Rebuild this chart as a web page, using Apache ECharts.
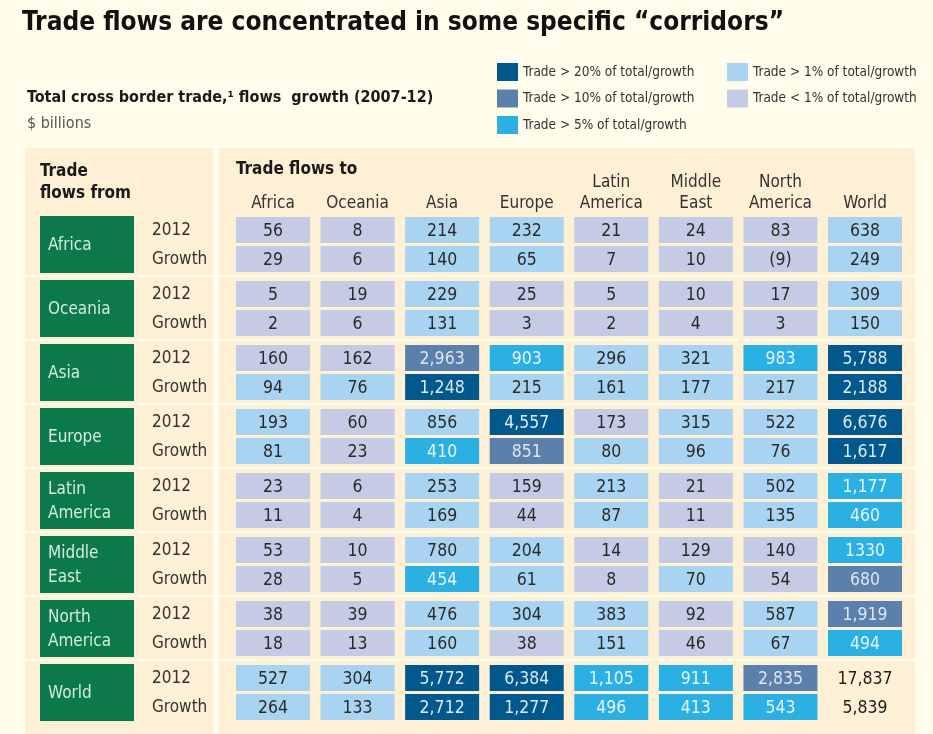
<!DOCTYPE html>
<html lang="en">
<head>
<meta charset="UTF-8">
<title>Trade corridors</title>
<script src="https://cdn.jsdelivr.net/npm/echarts@6/dist/echarts.min.js"></script>
<style>
  html, body { margin: 0; padding: 0; background: #fffcec; }
  #main { width: 933px; height: 734px; }
</style>
</head>
<body>
<div id="main"></div>
<script>
// destinations (columns) and origins (row groups)
var destinations = ['Africa', 'Oceania', 'Asia', 'Europe', 'Latin\nAmerica', 'Middle\nEast', 'North\nAmerica', 'World'];
var origins = ['Africa', 'Oceania', 'Asia', 'Europe', 'Latin\nAmerica', 'Middle\nEast', 'North\nAmerica', 'World'];
var rowKinds = ['2012', 'Growth'];

// $ billions, as printed
var trade2012 = [
    ['56', '8', '214', '232', '21', '24', '83', '638'],
    ['5', '19', '229', '25', '5', '10', '17', '309'],
    ['160', '162', '2,963', '903', '296', '321', '983', '5,788'],
    ['193', '60', '856', '4,557', '173', '315', '522', '6,676'],
    ['23', '6', '253', '159', '213', '21', '502', '1,177'],
    ['53', '10', '780', '204', '14', '129', '140', '1330'],
    ['38', '39', '476', '304', '383', '92', '587', '1,919'],
    ['527', '304', '5,772', '6,384', '1,105', '911', '2,835', '17,837']
];
var tradeGrowth = [
    ['29', '6', '140', '65', '7', '10', '(9)', '249'],
    ['2', '6', '131', '3', '2', '4', '3', '150'],
    ['94', '76', '1,248', '215', '161', '177', '217', '2,188'],
    ['81', '23', '410', '851', '80', '96', '76', '1,617'],
    ['11', '4', '169', '44', '87', '11', '135', '460'],
    ['28', '5', '454', '61', '8', '70', '54', '680'],
    ['18', '13', '160', '38', '151', '46', '67', '494'],
    ['264', '133', '2,712', '1,277', '496', '413', '543', '5,839']
];

// share class: 0 <1%, 1 >1%, 2 >5%, 3 >10%, 4 >20%, -1 not shaded
var class2012 = [
    [0, 0, 1, 1, 0, 0, 0, 1],
    [0, 0, 1, 0, 0, 0, 0, 1],
    [0, 0, 3, 2, 1, 1, 2, 4],
    [1, 0, 1, 4, 0, 1, 1, 4],
    [0, 0, 1, 0, 1, 0, 1, 2],
    [0, 0, 1, 1, 0, 0, 0, 2],
    [0, 0, 1, 1, 1, 0, 1, 3],
    [1, 1, 4, 4, 2, 2, 3, -1]
];
var classGrowth = [
    [0, 0, 1, 1, 0, 0, 0, 1],
    [0, 0, 1, 0, 0, 0, 0, 1],
    [1, 1, 4, 1, 1, 1, 1, 4],
    [1, 0, 2, 3, 1, 1, 1, 4],
    [0, 0, 1, 0, 1, 0, 1, 2],
    [0, 0, 2, 1, 0, 1, 0, 3],
    [0, 0, 1, 0, 1, 0, 1, 2],
    [1, 1, 4, 4, 2, 2, 2, -1]
];

var classNames = [
    'Trade < 1% of total/growth',
    'Trade > 1% of total/growth',
    'Trade > 5% of total/growth',
    'Trade > 10% of total/growth',
    'Trade > 20% of total/growth'
];
var classColors = ['#c3cce4', '#a8d4f2', '#2bb0e3', '#5b80ab', '#00588c'];
var classText = ['#2a2a2a', '#2a2a2a', '#e8f5fc', '#dfe6f0', '#dde8f2'];

var NARROW = '"DejaVu Sans Condensed", "Liberation Sans Narrow", sans-serif';
var GROWTH_STEP = 29 / 64;   // growth row sits just under the 2012 row
var CELL_H = 26;

function cellData(cls) {
    var out = [];
    for (var g = 0; g < origins.length; g++) {
        for (var c = 0; c < destinations.length; c++) {
            if (class2012[g][c] === cls) out.push([c, g, trade2012[g][c]]);
            if (classGrowth[g][c] === cls) out.push([c, g + GROWTH_STEP, tradeGrowth[g][c]]);
        }
    }
    return out;
}

function cellSeries(cls, name) {
    var rows = cellData(cls);
    return {
        type: 'custom',
        name: name,
        color: cls >= 0 ? classColors[cls] : '#000',
        data: rows.map(function (r) { return [r[0], r[1]]; }),
        z: 5,
        clip: false,
        renderItem: function (params, api) {
            var p = api.coord([api.value(0), api.value(1)]);
            var w = api.size([1, 0])[0] * 0.875;
            var children = [];
            if (cls >= 0) {
                children.push({
                    type: 'rect',
                    shape: { x: p[0] - w / 2, y: p[1] - CELL_H / 2, width: w, height: CELL_H },
                    style: { fill: classColors[cls] }
                });
            }
            children.push({
                type: 'text',
                style: {
                    x: p[0], y: p[1] + 1,
                    text: rows[params.dataIndex][2],
                    align: 'center', verticalAlign: 'middle',
                    font: '17.5px ' + NARROW,
                    fill: cls >= 0 ? classText[cls] : '#1e1e1e'
                }
            });
            return { type: 'group', children: children };
        }
    };
}

var series = [];
for (var k = 4; k >= 0; k--) series.push(cellSeries(k, classNames[k]));
series.push(cellSeries(-1, 'total'));

// origin labels, 2012/Growth labels and group separators
series.push({
    type: 'custom',
    name: 'origins',
    data: origins.map(function (o, i) { return [0, i]; }),
    z: 4,
    clip: false,
    renderItem: function (params, api) {
        var g = api.value(1);
        var top = api.coord([0, g])[1] - CELL_H / 2 - 1;
        var bot = api.coord([0, g + GROWTH_STEP])[1] + CELL_H / 2 + 1;
        var children = [
            { type: 'rect', shape: { x: 40, y: top, width: 94, height: bot - top },
              style: { fill: '#0c7a48' } },
            { type: 'text', style: { x: 48, y: (top + bot) / 2 + 1, text: origins[params.dataIndex],
              verticalAlign: 'middle', font: '17px ' + NARROW, fill: '#d6ecdc', lineHeight: 24 } }
        ];
        rowKinds.forEach(function (kind, s) {
            var y = api.coord([0, g + s * GROWTH_STEP])[1];
            children.push({ type: 'text', style: { x: 152, y: y + 1, text: kind,
                verticalAlign: 'middle', font: '17px ' + NARROW, fill: '#333' } });
        });
        if (g > 0) {
            var ly = top - 4;
            children.push({ type: 'line', shape: { x1: 25, y1: ly, x2: 213, y2: ly },
                style: { stroke: '#fffcf0', lineWidth: 2 } });
            children.push({ type: 'line', shape: { x1: 219, y1: ly, x2: 915, y2: ly },
                style: { stroke: '#fffcf0', lineWidth: 2 } });
        }
        return { type: 'group', children: children };
    }
});

var chart = echarts.init(document.getElementById('main'));
chart.setOption({
    backgroundColor: '#fffcec',
    animation: false,
    title: [
        { text: 'Trade flows are concentrated in some specific \u201ccorridors\u201d', left: 22, top: 10, padding: 0,
          textStyle: { fontFamily: NARROW, fontSize: 26, fontWeight: 'bold', color: '#111' } },
        { text: 'Total cross border trade,\u00b9 flows  growth (2007-12)', left: 27, top: 90, padding: 0,
          textStyle: { fontFamily: NARROW, fontSize: 16, fontWeight: 'bold', color: '#1a1a1a' } },
        { text: '$ billions', left: 27, top: 116, padding: 0,
          textStyle: { fontFamily: NARROW, fontSize: 16, fontWeight: 'normal', color: '#555' } },
        { text: 'Trade\nflows from', left: 40, top: 161, padding: 0,
          textStyle: { fontFamily: NARROW, fontSize: 17, fontWeight: 'bold', color: '#1a1a1a', lineHeight: 22 } },
        { text: 'Trade flows to', left: 236, top: 161, padding: 0,
          textStyle: { fontFamily: NARROW, fontSize: 17, fontWeight: 'bold', color: '#1a1a1a' } }
    ],
    legend: [
        { data: [classNames[4], classNames[3], classNames[2]], orient: 'vertical', left: 497, top: 63,
          icon: 'rect', itemWidth: 21, itemHeight: 18, itemGap: 8.5, selectedMode: false, padding: 0,
          textStyle: { fontFamily: NARROW, fontSize: 13.5, color: '#333' } },
        { data: [classNames[1], classNames[0]], orient: 'vertical', left: 727, top: 63,
          icon: 'rect', itemWidth: 21, itemHeight: 18, itemGap: 8.5, selectedMode: false, padding: 0,
          textStyle: { fontFamily: NARROW, fontSize: 13.5, color: '#333' } }
    ],
    graphic: [
        { type: 'rect', z: -1, shape: { x: 25, y: 148, width: 188, height: 586 }, style: { fill: '#fdf0d5' } },
        { type: 'rect', z: -1, shape: { x: 219, y: 148, width: 696, height: 586 }, style: { fill: '#fdf0d5' } }
    ],
    grid: { left: 230.7, right: 25.7, top: 214, bottom: 4.8 },
    xAxis: {
        type: 'category',
        position: 'top',
        data: destinations,
        axisLine: { show: false },
        axisTick: { show: false },
        splitLine: { show: false },
        axisLabel: { margin: 0, fontFamily: NARROW, fontSize: 17, color: '#333', lineHeight: 21, interval: 0 }
    },
    yAxis: { type: 'value', inverse: true, min: -0.25, max: 7.8, show: false, splitLine: { show: false } },
    series: series
});
</script>
</body>
</html>
